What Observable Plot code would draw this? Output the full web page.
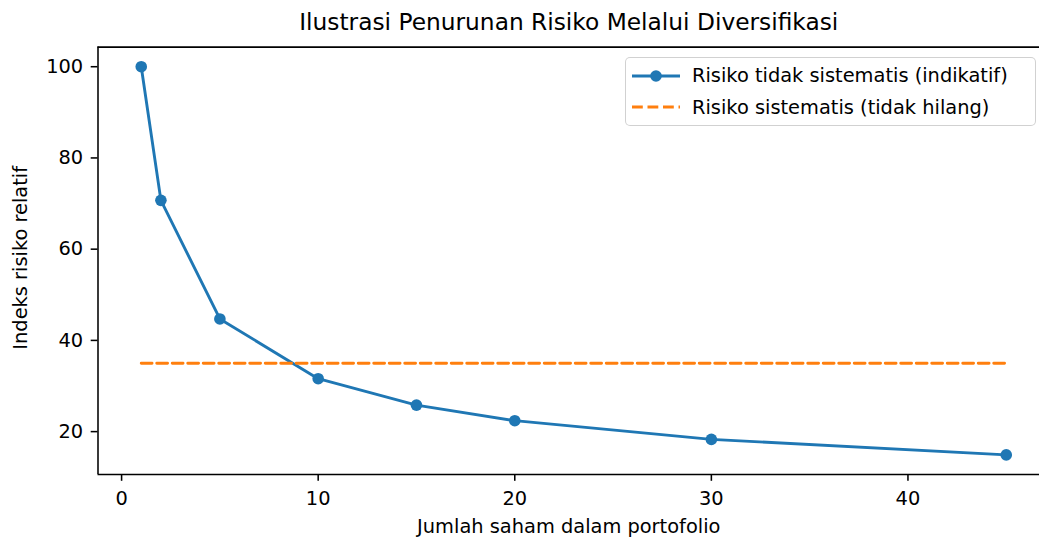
<!DOCTYPE html>
<html>
<head>
<meta charset="utf-8">
<script src="https://cdn.jsdelivr.net/npm/d3@7"></script>
<script src="https://cdn.jsdelivr.net/npm/@observablehq/plot@0.6"></script>
<style>
  html, body { margin: 0; padding: 0; background: #fff; overflow: hidden; }
  #wrap { position: relative; width: 1039px; height: 538px; }
  #legend {
    position: absolute; left: 625px; top: 57px; width: 409px; height: 67px;
    border: 1.5px solid rgba(204,204,204,0.9); border-radius: 5px; background: rgba(255,255,255,0.8);
    font-family: "DejaVu Sans", sans-serif; font-size: 19.4px; color: #000; box-sizing: content-box;
  }
  .row { position: absolute; left: 0; height: 30px; display: flex; align-items: center; white-space: nowrap; }
  .row svg { margin-left: 6px; margin-right: 12px; }
</style>
</head>
<body>
<div id="wrap">
  <div id="chart"></div>
  <div id="legend"></div>
</div>
<script>
// ---- data ----
const jumlahSaham = [1, 2, 5, 10, 15, 20, 30, 45];
const risikoTidakSistematis = [100, 70.7, 44.7, 31.6, 25.8, 22.4, 18.3, 14.9];
const sistematisX = [1, 45];
const sistematisY = [35, 35];
const xTicks = [0, 10, 20, 30, 40];
const yTicks = [20, 40, 60, 80, 100];
const xDomain = [-1.2, 47.2];
const yDomain = [10.6, 104.3];
const labelUnsys = "Risiko tidak sistematis (indikatif)";
const labelSys = "Risiko sistematis (tidak hilang)";
const title = "Ilustrasi Penurunan Risiko Melalui Diversifikasi";
const xLabel = "Jumlah saham dalam portofolio";
const yLabel = "Indeks risiko relatif";

const blue = "#1f77b4", orange = "#ff7f0e";

const unsys = jumlahSaham.map((x, i) => ({x, y: risikoTidakSistematis[i]}));
const sys = sistematisX.map((x, i) => ({x, y: sistematisY[i]}));

const W = 1039, H = 538;
const mL = 97.5, mT = 46.6, mB = 64;

const chart = Plot.plot({
  width: W, height: H,
  marginLeft: mL, marginRight: 0, marginTop: mT, marginBottom: mB,
  style: {fontFamily: "DejaVu Sans, sans-serif", fontSize: "19.4px", color: "#000", background: "#fff"},
  x: {domain: xDomain, range: [mL, 1049]},
  y: {domain: yDomain},
  marks: [
    Plot.axisX({ticks: xTicks, tickSize: 6.8, tickPadding: 10, strokeWidth: 1.55, label: null}),
    Plot.axisY({ticks: yTicks, tickSize: 6.8, tickPadding: 8, strokeWidth: 1.55, label: null}),
    Plot.ruleY([yDomain[1]], {stroke: "#000", strokeWidth: 1.55}),
    Plot.ruleY([yDomain[0]], {stroke: "#000", strokeWidth: 1.55}),
    Plot.ruleX([xDomain[0]], {stroke: "#000", strokeWidth: 1.55}),
    Plot.line(unsys, {x: "x", y: "y", stroke: blue, strokeWidth: 2.9}),
    Plot.dot(unsys, {x: "x", y: "y", r: 5.8, fill: blue, stroke: "none"}),
    Plot.line(sys, {x: "x", y: "y", stroke: orange, strokeWidth: 2.9, strokeDasharray: "10.8,4.7"}),
    Plot.text([title], {frameAnchor: "top", dy: -24.6, fontSize: 23.3, text: d => d, lineAnchor: "middle", textAnchor: "middle"}),
    Plot.text([xLabel], {frameAnchor: "bottom", dy: 52.5, text: d => d, lineAnchor: "middle", textAnchor: "middle"}),
    Plot.text([yLabel], {frameAnchor: "left", dx: -77, dy: -3, rotate: -90, text: d => d, lineAnchor: "middle", textAnchor: "middle"})
  ]
});
document.getElementById("chart").appendChild(chart);

// ---- legend ----
const legend = document.getElementById("legend");
function addRow(top, label, kind) {
  const row = document.createElement("div");
  row.className = "row";
  row.style.top = top + "px";
  let sw;
  if (kind === "unsys") {
    sw = `<svg width="48" height="20"><line x1="0" y1="10" x2="48" y2="10" stroke="${blue}" stroke-width="2.9"/><circle cx="24" cy="10" r="5.8" fill="${blue}"/></svg>`;
  } else {
    sw = `<svg width="48" height="20"><line x1="0" y1="10" x2="48" y2="10" stroke="${orange}" stroke-width="2.9" stroke-dasharray="10.8,4.7"/></svg>`;
  }
  row.innerHTML = sw + `<span>${label}</span>`;
  legend.appendChild(row);
}
addRow(2.5, labelUnsys, "unsys");
addRow(34, labelSys, "sys");
</script>
</body>
</html>
